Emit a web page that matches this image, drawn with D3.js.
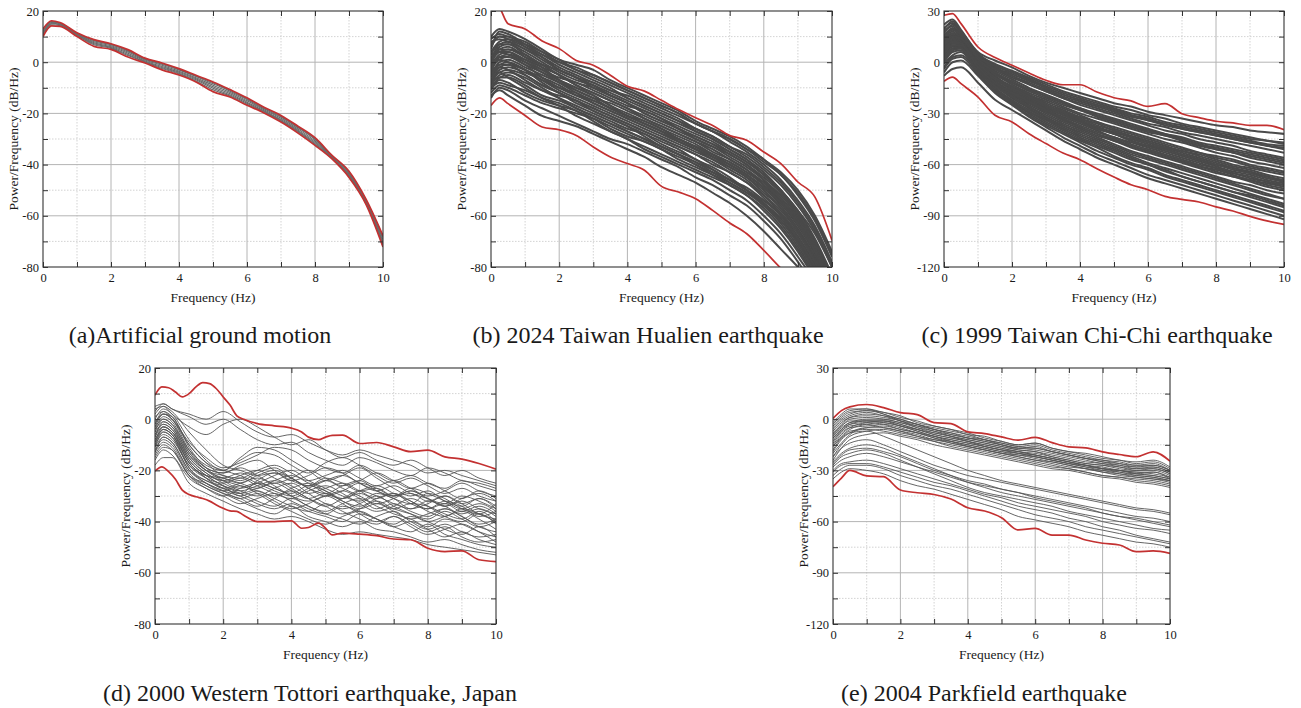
<!DOCTYPE html>
<html>
<head>
<meta charset="utf-8">
<script src="https://cdn.jsdelivr.net/npm/d3@7/dist/d3.min.js"></script>
<style>
  html, body { margin: 0; padding: 0; background: #fff; }
  svg { display: block; }
  text { font-family: "Liberation Serif", "Times New Roman", serif; fill: #1a1a1a; }
</style>
</head>
<body>
<svg id="chart" width="1301" height="708"></svg>
<script>
// Frequency grids (Hz)
const freqs = [0,0.25,0.5,1,1.5,2,2.5,3,3.5,4,4.5,5,5.5,6,6.5,7,7.5,8,8.5,9,9.5,10];
const freqsFine = [0,0.2,0.4,0.6,0.8,1,1.2,1.4,1.6,1.8,2,2.2,2.4,2.6,3,3.5,4,4.3,4.5,4.8,5,5.2,5.5,6,6.5,7,7.5,8,8.5,9,9.5,10];

const captions = [
  "(a)Artificial ground motion",
  "(b) 2024 Taiwan Hualien earthquake",
  "(c) 1999 Taiwan Chi-Chi earthquake",
  "(d) 2000 Western Tottori earthquake, Japan",
  "(e) 2004 Parkfield earthquake"
];
const xTicks = [0,2,4,6,8,10];
const yTicksA = [-80,-60,-40,-20,0,20];
const yTicksC = [-120,-90,-60,-30,0,30];

// (a) Artificial ground motion
const upperA = [13,16.2,15.5,11.5,8.8,7.2,4.9,1.6,-0.3,-2.5,-5.1,-7.7,-10.7,-13.9,-17.6,-20.8,-25,-29.5,-36.4,-42.6,-53.5,-67.8];
const lowerA = [10,14.2,14,10,6.2,5,2,-0.3,-3,-5,-7.7,-11.5,-13.6,-16.8,-19.8,-23.4,-27.7,-32.5,-37.8,-45,-55.5,-72.2];
const grayA = [
  [12,15.8,15.2,11.2,8.4,6.8,4.4,1.2,-0.8,-3,-5.6,-8.4,-11.3,-14.6,-18.2,-21.4,-25.6,-30.2,-36.6,-43.2,-54,-68.5],
  [11.5,15.5,15,11,8,6.4,4,0.9,-1.2,-3.5,-6.1,-9,-11.8,-15.1,-18.6,-21.9,-26.1,-30.8,-37,-43.7,-54.4,-69.2],
  [11,15.2,14.7,10.8,7.6,6,3.5,0.5,-1.7,-3.9,-6.5,-9.6,-12.3,-15.6,-19,-22.4,-26.6,-31.3,-37.2,-44,-54.7,-70],
  [10.8,15,14.6,10.6,7.2,5.7,3,0.2,-2.1,-4.3,-6.9,-10.2,-12.8,-16,-19.3,-22.8,-27,-31.8,-37.4,-44.4,-55,-70.6],
  [12.4,15.9,15.3,11.3,8.6,7,4.6,1.4,-0.5,-2.8,-5.4,-8,-11,-14.2,-17.9,-21.1,-25.3,-29.9,-36.5,-42.9,-53.8,-68],
  [10.5,14.6,14.3,10.3,6.8,5.4,2.6,0,-2.5,-4.6,-7.3,-10.8,-13.2,-16.4,-19.6,-23.1,-27.3,-32.2,-37.6,-44.7,-55.2,-71.2]
];

// (b) 2024 Taiwan Hualien earthquake
const upperB = [26,21.5,15,13,8.3,5.3,0.7,-1.2,-5.1,-9.4,-11.3,-14.9,-18.5,-21.7,-24.7,-28.6,-30.5,-35.1,-39.6,-46.8,-52.7,-69.6];
const lowerB = [-16.9,-13.9,-16.2,-20.8,-25.3,-26.4,-28.6,-33.1,-37,-39.6,-42.2,-48.5,-50.7,-53.3,-57.9,-62.8,-67,-73.5,-80.5,-87,-93,-99];
const grayB = [
  [10,13,12,9,5,1,-1,-3,-7,-10,-13,-16,-19,-23,-26,-29,-33,-38,-43,-50,-60,-74],
  [5,12,11,7,3,0,-3,-6,-9,-12,-15,-18,-21,-24,-27,-31,-35,-40,-46,-54,-64,-78],
  [8,9,8,5,2,-2,-5,-8,-11,-13,-16,-19,-22,-26,-29,-33,-37,-42,-48,-56,-66,-80],
  [0,6,7,4,0,-4,-7,-9,-12,-15,-18,-21,-24,-27,-30,-34,-38,-43,-50,-58,-69,-83],
  [3,4,3,0,-3,-6,-8,-11,-14,-17,-19,-22,-26,-29,-32,-36,-40,-46,-53,-61,-72,-86],
  [-2,2,3,1,-2,-5,-9,-12,-15,-18,-21,-24,-27,-30,-33,-37,-41,-46,-52,-60,-70,-84],
  [-5,0,1,-2,-5,-8,-11,-14,-16,-19,-22,-25,-28,-31,-35,-38,-42,-48,-55,-64,-75,-90],
  [2,5,6,2,-2,-7,-10,-13,-17,-20,-23,-26,-29,-32,-36,-40,-44,-49,-56,-65,-76,-90],
  [-8,-3,-2,-4,-7,-10,-12,-15,-18,-21,-24,-27,-30,-33,-36,-39,-43,-48,-54,-62,-72,-86],
  [-3,1,0,-3,-7,-11,-14,-17,-20,-23,-26,-29,-32,-35,-38,-42,-46,-52,-59,-68,-79,-93],
  [-10,-6,-5,-8,-11,-13,-15,-18,-21,-24,-27,-30,-33,-36,-40,-43,-47,-52,-58,-66,-77,-92],
  [-6,-2,-3,-7,-11,-14,-17,-20,-23,-26,-28,-31,-34,-38,-41,-45,-50,-56,-63,-72,-83,-97],
  [-12,-9,-10,-13,-16,-18,-20,-22,-25,-28,-31,-34,-37,-40,-44,-48,-52,-57,-64,-73,-84,-98],
  [-13,-11,-13,-17,-21,-23,-25,-28,-31,-34,-37,-41,-44,-47,-51,-55,-60,-66,-73,-80,-88,-100],
  [-9,-4,-6,-10,-14,-17,-21,-24,-27,-30,-33,-36,-39,-42,-45,-48,-52,-58,-65,-74,-85,-100],
  [6,10,10,6,2,-3,-6,-9,-13,-16,-19,-22,-25,-28,-31,-35,-39,-44,-50,-58,-67,-80],
  [-1,3,4,0,-4,-8,-12,-16,-19,-22,-25,-28,-31,-34,-38,-41,-45,-51,-57,-66,-77,-91],
  [-7,-4,-3,-5,-9,-12,-15,-19,-22,-25,-29,-33,-36,-39,-42,-46,-49,-54,-60,-69,-80,-95],
  [4,8,9,7,4,1,-3,-5,-8,-11,-14,-17,-20,-24,-27,-30,-34,-39,-44,-52,-62,-76],
  [-11,-7,-8,-12,-15,-17,-19,-22,-26,-29,-31,-34,-38,-41,-44,-47,-51,-55,-61,-70,-81,-95],
  [1,7,8,5,1,-3,-6,-10,-13,-16,-20,-23,-26,-30,-33,-36,-40,-45,-51,-59,-70,-84],
  [-4,-1,-1,-5,-9,-12,-16,-19,-22,-25,-28,-32,-35,-38,-42,-46,-50,-55,-62,-70,-81,-94],
  [9,11,10,8,4,0,-2,-5,-8,-11,-14,-17,-20,-24,-27,-30,-34,-38,-44,-51,-61,-75],
  [7,10,9,6,3,-1,-4,-7,-10,-14,-17,-20,-23,-26,-29,-33,-36,-41,-47,-55,-65,-79],
  [-1,5,5,2,-1,-5,-8,-10,-13,-16,-20,-23,-26,-29,-32,-35,-39,-44,-50,-59,-70,-85],
  [1,4,5,3,-1,-3,-6,-8,-11,-14,-17,-20,-23,-27,-30,-34,-38,-44,-51,-60,-71,-86],
  [-4,2,2,-1,-4,-7,-10,-13,-17,-21,-24,-27,-30,-33,-37,-41,-45,-50,-57,-66,-78,-93],
  [-7,-2,-1,-3,-6,-9,-13,-16,-19,-22,-25,-28,-31,-34,-37,-40,-44,-49,-55,-63,-74,-88],
  [-9,-5,-4,-6,-10,-14,-18,-21,-24,-27,-30,-33,-36,-39,-43,-47,-51,-56,-62,-71,-82,-96],
  [-14,-10,-11,-15,-18,-21,-24,-27,-30,-32,-35,-38,-41,-45,-48,-52,-56,-62,-69,-78,-88,-100],
  [-2,1,2,-1,-6,-10,-13,-15,-18,-21,-23,-26,-30,-33,-36,-39,-43,-47,-53,-61,-72,-86],
  [3,7,7,3,-1,-5,-9,-12,-15,-18,-22,-25,-28,-31,-34,-38,-42,-47,-54,-62,-73,-87],
  [-5,-1,0,-3,-8,-12,-15,-18,-21,-24,-27,-30,-33,-36,-39,-43,-47,-53,-60,-69,-80,-95],
  [-10,-8,-9,-11,-14,-16,-19,-23,-27,-30,-34,-37,-40,-43,-46,-50,-54,-60,-67,-76,-86,-100],
  [0,4,4,1,-3,-7,-11,-14,-18,-21,-24,-27,-31,-34,-37,-40,-44,-49,-55,-63,-74,-88],
  [-8,-6,-6,-9,-13,-15,-18,-21,-24,-27,-30,-33,-36,-40,-43,-46,-50,-54,-59,-67,-78,-92]
];

// (c) 1999 Taiwan Chi-Chi earthquake
const upperC = [27.5,28.5,22.6,8.9,2.7,-1.8,-6.3,-10.6,-13.2,-13.2,-17.5,-20.8,-22.7,-25.9,-24.3,-30.2,-32.5,-34.6,-35.6,-37,-37,-39.5];
const lowerC = [-11.2,-8.7,-12.6,-20.4,-31.1,-35,-41.9,-47.7,-53.2,-57.1,-62.4,-67.3,-71.8,-74.7,-78.6,-80.4,-81.9,-84.8,-87.2,-90.3,-93,-95];
const grayC = [
  [20,23,18,6,1,-3,-8,-12,-15,-18,-21,-24,-26,-29,-31,-33,-35,-37,-38,-40,-41,-42],
  [15,20,16,5,-2,-6,-10,-14,-18,-21,-24,-27,-30,-32,-35,-37,-39,-41,-43,-45,-46,-48],
  [12,17,14,3,-4,-9,-13,-17,-21,-24,-27,-30,-33,-36,-38,-41,-43,-45,-47,-49,-51,-53],
  [18,21,15,2,-6,-12,-16,-20,-24,-27,-31,-34,-37,-40,-42,-45,-48,-50,-52,-54,-56,-58],
  [8,14,12,1,-7,-13,-18,-22,-26,-30,-33,-36,-39,-42,-45,-47,-50,-53,-55,-58,-60,-62],
  [10,15,13,0,-8,-15,-20,-25,-29,-33,-36,-40,-43,-46,-49,-52,-54,-57,-60,-62,-64,-66],
  [5,11,10,-2,-10,-16,-21,-26,-30,-34,-38,-41,-44,-47,-50,-53,-56,-59,-62,-64,-67,-69],
  [14,18,13,-1,-11,-18,-23,-28,-32,-36,-40,-44,-47,-50,-53,-56,-59,-62,-65,-68,-70,-72],
  [2,8,8,-3,-12,-19,-25,-30,-35,-39,-43,-46,-50,-53,-56,-59,-62,-65,-67,-70,-73,-75],
  [9,13,11,-4,-13,-20,-26,-32,-37,-41,-45,-49,-53,-56,-59,-62,-65,-68,-71,-74,-77,-80],
  [-3,3,4,-5,-14,-21,-27,-33,-38,-43,-47,-51,-55,-59,-62,-65,-68,-71,-74,-77,-80,-83],
  [6,12,10,-6,-16,-23,-30,-36,-41,-46,-50,-55,-59,-62,-66,-69,-72,-75,-78,-81,-84,-87],
  [-6,0,1,-8,-18,-25,-32,-38,-44,-49,-54,-58,-62,-66,-69,-72,-75,-78,-81,-84,-87,-90],
  [3,9,9,-7,-17,-24,-29,-34,-39,-44,-48,-52,-56,-60,-63,-67,-70,-73,-76,-78,-81,-84],
  [16,19,15,4,-3,-8,-12,-16,-20,-23,-26,-29,-32,-34,-37,-39,-41,-43,-45,-47,-49,-50],
  [11,16,14,1,-9,-14,-19,-23,-27,-31,-35,-38,-41,-44,-47,-50,-53,-55,-57,-60,-62,-64],
  [0,6,7,-4,-15,-22,-28,-33,-37,-42,-46,-50,-54,-57,-60,-63,-66,-69,-72,-75,-78,-80],
  [7,13,12,-1,-12,-17,-22,-27,-31,-35,-39,-42,-46,-49,-52,-55,-58,-61,-64,-66,-69,-71],
  [13,17,15,2,-5,-10,-15,-19,-23,-27,-30,-33,-36,-39,-42,-44,-47,-49,-51,-53,-55,-57],
  [4,10,9,-3,-13,-19,-24,-29,-33,-38,-42,-46,-49,-52,-55,-58,-61,-64,-67,-69,-72,-74],
  [-8,-4,-3,-12,-22,-28,-34,-40,-46,-51,-56,-60,-64,-68,-71,-74,-77,-80,-83,-86,-89,-92],
  [22,25,19,5,-1,-5,-9,-13,-17,-20,-23,-26,-28,-31,-33,-36,-38,-40,-42,-44,-46,-47],
  [17,22,17,4,-3,-7,-11,-15,-19,-22,-25,-28,-31,-33,-36,-38,-40,-42,-44,-46,-48,-49],
  [12,16,13,1,-7,-12,-17,-21,-25,-28,-32,-35,-38,-41,-43,-46,-49,-51,-53,-56,-58,-60],
  [9,14,12,0,-9,-14,-19,-24,-28,-32,-35,-39,-42,-45,-48,-51,-53,-56,-58,-61,-63,-65],
  [6,11,11,-2,-11,-17,-22,-27,-31,-35,-39,-42,-46,-49,-51,-54,-57,-60,-62,-65,-67,-70],
  [3,8,9,-4,-13,-19,-24,-29,-34,-38,-42,-45,-49,-52,-55,-58,-61,-63,-66,-69,-71,-73],
  [11,15,12,-2,-10,-16,-21,-26,-30,-34,-38,-42,-45,-48,-51,-54,-57,-60,-63,-65,-68,-70],
  [1,7,8,-5,-14,-20,-26,-31,-36,-40,-44,-48,-52,-55,-58,-61,-64,-67,-70,-72,-75,-77],
  [-1,4,6,-6,-16,-23,-29,-35,-40,-45,-49,-53,-57,-60,-64,-67,-70,-73,-76,-79,-82,-85],
  [14,19,16,3,-4,-8,-13,-17,-21,-25,-28,-31,-34,-37,-40,-42,-45,-47,-49,-52,-54,-56],
  [7,12,11,-1,-9,-15,-20,-25,-29,-33,-37,-40,-44,-47,-50,-52,-55,-58,-61,-63,-66,-68],
  [-4,2,3,-7,-17,-24,-31,-37,-42,-47,-52,-56,-60,-63,-67,-70,-73,-76,-79,-82,-85,-88],
  [10,15,14,2,-6,-11,-16,-20,-24,-28,-31,-34,-37,-40,-43,-45,-48,-51,-53,-55,-57,-59],
  [5,10,10,-3,-12,-18,-23,-28,-33,-37,-41,-44,-48,-51,-54,-57,-60,-62,-65,-67,-70,-72],
  [19,24,18,3,-2,-6,-10,-15,-19,-22,-25,-28,-31,-34,-36,-39,-41,-43,-45,-47,-49,-51]
];

// (d) 2000 Western Tottori earthquake (envelopes on the fine grid)
const upperD = [9.4,12.6,12.3,10.6,8.7,10,12.6,14.3,13.9,11.9,8.7,5.5,1.3,0,-1.7,-2.6,-3.5,-5,-7,-8,-7,-6.3,-6.2,-9.5,-9.1,-10.8,-12.7,-12.1,-14.7,-15.6,-17.3,-19.5];
const lowerD = [-20.3,-18.6,-20.5,-23.5,-27.7,-29.4,-30.3,-31,-32,-33.5,-34.8,-35.8,-36,-37.5,-40,-40,-39.7,-42.6,-42.3,-40.6,-42.6,-45.2,-44.5,-44.9,-45.5,-46.8,-47.1,-50.4,-51.7,-51.4,-54.9,-55.6];
const grayD = [
  [2,5,3,-5,-12,-18,-20,-22,-21,-24,-26,-23,-25,-28,-27,-30,-29,-32,-30,-33,-31,-34],
  [-5,-2,-4,-14,-20,-22,-24,-21,-19,-23,-27,-29,-26,-24,-28,-31,-33,-29,-31,-35,-37,-33],
  [-10,-6,-8,-18,-22,-24,-26,-28,-30,-27,-25,-28,-32,-34,-31,-29,-32,-36,-38,-35,-37,-40],
  [0,4,2,-8,-16,-20,-15,-11,-12,-16,-20,-24,-22,-19,-23,-27,-30,-28,-32,-34,-31,-35],
  [-14,-10,-12,-22,-25,-28,-30,-33,-35,-33,-36,-38,-40,-37,-39,-42,-44,-41,-45,-47,-49,-50],
  [-8,-4,-6,-17,-23,-27,-25,-23,-26,-30,-32,-30,-28,-31,-35,-33,-36,-38,-35,-38,-42,-44],
  [3,6,4,1,-2,0,-4,-8,-10,-9,-13,-16,-18,-15,-17,-20,-22,-19,-21,-24,-25,-27],
  [-12,-8,-10,-21,-26,-29,-32,-35,-37,-34,-38,-40,-42,-40,-43,-44,-46,-48,-47,-49,-51,-52],
  [-3,0,-2,-12,-18,-20,-16,-13,-14,-18,-21,-17,-15,-18,-22,-25,-23,-26,-29,-27,-30,-32],
  [-16,-12,-14,-23,-27,-30,-33,-31,-29,-32,-35,-37,-34,-36,-39,-41,-38,-40,-43,-45,-42,-46],
  [-6,-3,-5,-15,-21,-25,-28,-30,-27,-25,-29,-33,-35,-33,-30,-34,-37,-40,-38,-36,-39,-43],
  [1,3,0,-10,-17,-22,-23,-20,-18,-21,-24,-22,-20,-23,-26,-24,-27,-30,-28,-25,-28,-30],
  [-9,-5,-7,-19,-24,-26,-28,-26,-24,-27,-31,-34,-31,-28,-30,-33,-35,-32,-34,-37,-35,-38],
  [4,5,2,-3,-6,-2,0,-3,-7,-10,-8,-12,-15,-13,-16,-18,-16,-19,-22,-20,-23,-25],
  [-18,-15,-15,-25,-29,-32,-35,-37,-39,-38,-40,-43,-45,-44,-45,-46,-47,-49,-50,-51,-52,-53],
  [-4,-1,-3,-13,-19,-21,-18,-16,-20,-24,-22,-19,-21,-25,-28,-26,-29,-31,-34,-32,-35,-37],
  [-11,-7,-9,-20,-25,-28,-31,-29,-32,-35,-33,-30,-33,-37,-40,-38,-41,-44,-42,-46,-48,-47],
  [-7,-3,-5,-16,-22,-26,-29,-32,-34,-31,-34,-37,-39,-41,-38,-36,-40,-43,-41,-44,-46,-45],
  [-2,2,1,-11,-19,-23,-21,-24,-27,-29,-26,-28,-31,-29,-32,-35,-33,-34,-37,-39,-36,-40],
  [-13,-9,-11,-22,-27,-30,-27,-25,-27,-30,-34,-36,-33,-31,-34,-37,-39,-42,-39,-41,-44,-46],
  [5,6,4,2,0,3,-1,-5,-7,-6,-9,-12,-14,-12,-14,-16,-18,-21,-20,-22,-24,-26],
  [-1,2,0,-9,-15,-19,-17,-14,-11,-12,-16,-19,-21,-18,-21,-24,-22,-25,-27,-24,-26,-28],
  [-7,-1,-3,-15,-21,-24,-22,-20,-23,-26,-29,-27,-25,-28,-31,-29,-33,-35,-32,-34,-38,-36],
  [-9,-3,-5,-17,-22,-23,-25,-27,-24,-22,-25,-29,-31,-28,-26,-29,-32,-35,-33,-36,-34,-37],
  [-4,1,-1,-13,-20,-24,-27,-25,-22,-20,-24,-27,-30,-32,-29,-31,-35,-33,-30,-33,-37,-39],
  [-11,-5,-7,-18,-23,-25,-23,-26,-29,-31,-28,-26,-29,-33,-36,-34,-31,-34,-38,-40,-37,-41],
  [-6,-2,-4,-16,-22,-26,-30,-28,-31,-34,-36,-33,-36,-39,-41,-38,-42,-45,-43,-41,-44,-48],
  [-13,-7,-9,-20,-24,-27,-29,-24,-21,-23,-27,-30,-28,-25,-27,-30,-28,-31,-34,-31,-29,-32],
  [-3,2,0,-12,-19,-21,-19,-22,-25,-23,-20,-23,-26,-24,-21,-24,-27,-25,-28,-31,-28,-31],
  [-15,-11,-12,-22,-26,-29,-31,-34,-31,-28,-31,-34,-37,-35,-32,-35,-37,-39,-36,-39,-42,-40],
  [-8,-4,-6,-19,-25,-28,-26,-29,-33,-36,-39,-41,-38,-36,-39,-42,-40,-43,-46,-44,-47,-49],
  [-5,0,-2,-14,-20,-23,-25,-22,-20,-23,-26,-24,-27,-30,-33,-31,-28,-31,-33,-30,-32,-35],
  [-10,-4,-6,-17,-23,-27,-29,-27,-25,-28,-31,-29,-32,-35,-33,-36,-39,-37,-35,-38,-41,-39],
  [-2,3,1,-10,-17,-20,-22,-25,-28,-30,-27,-24,-22,-25,-28,-30,-27,-29,-32,-35,-33,-36]
];

// (e) 2004 Parkfield earthquake
const upperE = [0.4,5,7.2,8.6,6.8,3.9,2.7,-2,-2.6,-7.4,-8.4,-10.4,-12.3,-10.6,-13.7,-16.2,-16.8,-19.1,-20.7,-22,-19.1,-24.6];
const lowerE = [-39.6,-34.5,-30,-33.2,-33.7,-41.5,-43.1,-44.1,-46.8,-51.9,-53.8,-57.7,-64.9,-64,-67.9,-67.9,-70.8,-72.7,-73.7,-77.6,-77.2,-78.6];
const grayE = [
  [-5,0,3,5,4,1,-1,-4,-6,-9,-10,-13,-15,-14,-17,-19,-20,-22,-24,-25,-24,-28],
  [-10,-5,-2,0,0,-2,-4,-6,-9,-11,-13,-15,-17,-18,-20,-22,-24,-26,-27,-29,-28,-31],
  [-15,-9,-5,-2,-1,-3,-6,-9,-11,-13,-15,-17,-19,-21,-23,-25,-27,-28,-30,-31,-32,-34],
  [-8,-3,1,2,1,-1,-5,-8,-10,-12,-14,-16,-18,-19,-22,-24,-26,-27,-29,-30,-29,-32],
  [-20,-14,-9,-5,-4,-6,-8,-11,-14,-16,-18,-20,-21,-23,-25,-27,-29,-31,-32,-34,-35,-36],
  [-12,-7,-4,-3,-5,-7,-9,-12,-13,-15,-17,-19,-21,-22,-24,-26,-28,-29,-31,-32,-31,-35],
  [-3,2,5,6,3,0,-3,-5,-7,-9,-12,-14,-16,-15,-18,-20,-22,-24,-25,-27,-26,-30],
  [-18,-11,-7,-6,-7,-9,-11,-13,-15,-17,-19,-21,-23,-25,-27,-29,-31,-33,-34,-36,-37,-39],
  [-9,-4,-1,-1,-2,-4,-7,-10,-12,-14,-16,-18,-20,-21,-23,-25,-27,-29,-30,-32,-33,-35],
  [-24,-17,-12,-9,-8,-10,-12,-15,-17,-19,-21,-23,-25,-27,-29,-30,-32,-34,-35,-37,-38,-40],
  [-6,-1,2,4,2,-1,-3,-6,-8,-11,-12,-15,-17,-16,-19,-21,-23,-25,-26,-28,-27,-30],
  [-14,-8,-5,-4,-3,-5,-8,-10,-13,-15,-17,-19,-20,-22,-24,-26,-28,-30,-31,-33,-34,-36],
  [-11,-6,-3,-2,-3,-6,-8,-11,-13,-16,-18,-20,-22,-24,-26,-28,-29,-31,-33,-34,-35,-37],
  [-2,3,6,6,4,2,-2,-4,-6,-8,-11,-13,-15,-14,-17,-19,-21,-23,-24,-26,-25,-29],
  [-28,-24,-22,-20,-22,-25,-28,-31,-34,-37,-39,-41,-43,-45,-47,-49,-51,-53,-55,-57,-58,-60],
  [-30,-26,-25,-24,-26,-29,-32,-35,-38,-41,-44,-46,-49,-51,-53,-55,-57,-60,-62,-64,-65,-67],
  [-25,-20,-17,-15,-17,-21,-25,-29,-33,-37,-40,-43,-45,-47,-49,-51,-53,-55,-57,-58,-60,-62],
  [-33,-29,-27,-27,-29,-33,-36,-39,-41,-44,-47,-50,-53,-56,-58,-60,-63,-65,-67,-69,-71,-73],
  [-22,-17,-14,-12,-15,-19,-23,-27,-30,-33,-35,-37,-39,-41,-43,-45,-47,-49,-51,-53,-54,-56],
  [-35,-31,-29,-30,-32,-36,-39,-41,-44,-47,-50,-53,-57,-59,-61,-63,-66,-68,-70,-72,-73,-75],
  [-27,-22,-20,-18,-20,-24,-28,-32,-36,-40,-43,-45,-47,-49,-51,-54,-56,-58,-60,-62,-64,-65],
  [-16,-11,-8,-7,-10,-14,-18,-22,-26,-30,-33,-36,-38,-40,-42,-44,-46,-48,-50,-52,-53,-55],
  [-7,-2,1,3,2,0,-3,-6,-8,-10,-12,-14,-16,-17,-19,-21,-23,-24,-26,-27,-27,-30],
  [-13,-7,-3,-1,-1,-3,-6,-8,-10,-13,-15,-17,-19,-20,-22,-24,-26,-27,-28,-30,-30,-33],
  [-16,-10,-6,-3,-2,-4,-7,-10,-12,-14,-16,-18,-20,-22,-24,-26,-27,-29,-30,-32,-33,-35],
  [-4,1,4,5,3,-1,-4,-7,-9,-11,-13,-15,-17,-17,-19,-21,-23,-25,-27,-28,-28,-31],
  [-19,-12,-8,-5,-5,-7,-10,-12,-14,-16,-18,-20,-22,-24,-25,-27,-29,-30,-32,-33,-34,-36],
  [-9,-4,0,1,0,-2,-5,-7,-10,-12,-14,-16,-18,-19,-21,-23,-25,-26,-28,-29,-29,-32],
  [-11,-6,-2,-1,-1,-4,-6,-9,-11,-13,-16,-18,-19,-21,-23,-25,-27,-29,-30,-31,-31,-34],
  [-22,-15,-10,-7,-6,-8,-10,-13,-16,-18,-20,-22,-24,-26,-28,-29,-31,-33,-34,-35,-36,-38],
  [-26,-21,-18,-17,-19,-22,-26,-30,-33,-36,-38,-41,-43,-46,-48,-50,-52,-55,-57,-59,-61,-63],
  [-31,-27,-26,-26,-28,-31,-34,-37,-39,-42,-45,-48,-51,-53,-55,-58,-60,-63,-65,-68,-70,-72]
];

const RED = "#c33131";

const panels = [
  { box: [43, 11, 383, 267], yDomain: [-80, 20], yTicks: yTicksA, yMinor: 10,
    gray: grayA, grayFreq: freqs, upper: upperA, lower: lowerA, redFreq: freqs,
    grayColor: "#6a6a6a", grayWidth: 1.1, caption: captions[0], capX: 200, capY: 343 },
  { box: [491, 11, 832, 267], yDomain: [-80, 20], yTicks: yTicksA, yMinor: 10,
    gray: grayB, grayFreq: freqs, upper: upperB, lower: lowerB, redFreq: freqs,
    grayColor: "#4a4a4a", grayWidth: 2.0, caption: captions[1], capX: 648, capY: 343 },
  { box: [944, 11, 1284, 267], yDomain: [-120, 30], yTicks: yTicksC, yMinor: 15,
    gray: grayC, grayFreq: freqs, upper: upperC, lower: lowerC, redFreq: freqs,
    grayColor: "#4a4a4a", grayWidth: 2.0, caption: captions[2], capX: 1097, capY: 343 },
  { box: [155, 368, 496, 624], yDomain: [-80, 20], yTicks: yTicksA, yMinor: 10,
    gray: grayD, grayFreq: freqs, upper: upperD, lower: lowerD, redFreq: freqsFine,
    grayColor: "#555", grayWidth: 0.9, caption: captions[3], capX: 310, capY: 701 },
  { box: [833, 368, 1170, 624], yDomain: [-120, 30], yTicks: yTicksC, yMinor: 15,
    gray: grayE, grayFreq: freqs, upper: upperE, lower: lowerE, redFreq: freqs,
    grayColor: "#555", grayWidth: 0.9, caption: captions[4], capX: 984, capY: 701 }
];

const svg = d3.select("#chart");

panels.forEach((p, i) => {
  const [x0, y0, x1, y1] = p.box;
  const x = d3.scaleLinear().domain([0, 10]).range([x0, x1]);
  const y = d3.scaleLinear().domain(p.yDomain).range([y1, y0]);
  const g = svg.append("g");

  const clipId = "clip" + i;
  g.append("clipPath").attr("id", clipId)
    .append("rect").attr("x", x0).attr("y", y0).attr("width", x1 - x0).attr("height", y1 - y0);

  // Grid: solid at labelled ticks, dotted halfway between
  const majorX = xTicks;
  const minorX = d3.range(1, 10, 2);
  const majorY = p.yTicks;
  const minorY = d3.range(p.yDomain[0] + p.yMinor, p.yDomain[1], p.yMinor * 2);

  g.selectAll(".gmx").data(minorX).join("line")
    .attr("x1", d => x(d)).attr("x2", d => x(d)).attr("y1", y0).attr("y2", y1)
    .attr("stroke", "#c8c8c8").attr("stroke-width", 0.8).attr("stroke-dasharray", "1.5,1.5");
  g.selectAll(".gmy").data(minorY).join("line")
    .attr("y1", d => y(d)).attr("y2", d => y(d)).attr("x1", x0).attr("x2", x1)
    .attr("stroke", "#c8c8c8").attr("stroke-width", 0.8).attr("stroke-dasharray", "1.5,1.5");
  g.selectAll(".gMx").data(majorX.slice(1, -1)).join("line")
    .attr("x1", d => x(d)).attr("x2", d => x(d)).attr("y1", y0).attr("y2", y1)
    .attr("stroke", "#b4b4b4").attr("stroke-width", 1);
  g.selectAll(".gMy").data(majorY.slice(1, -1)).join("line")
    .attr("y1", d => y(d)).attr("y2", d => y(d)).attr("x1", x0).attr("x2", x1)
    .attr("stroke", "#b4b4b4").attr("stroke-width", 1);

  const plot = g.append("g").attr("clip-path", `url(#${clipId})`);

  const grayLine = d3.line()
    .x((d, k) => x(p.grayFreq[k])).y(d => y(d))
    .curve(d3.curveMonotoneX);
  plot.selectAll(".gl").data(p.gray).join("path")
    .attr("d", grayLine).attr("fill", "none")
    .attr("stroke", p.grayColor).attr("stroke-width", p.grayWidth)
    .attr("stroke-linejoin", "round");

  const redLine = d3.line()
    .x((d, k) => x(p.redFreq[k])).y(d => y(d))
    .curve(d3.curveMonotoneX);
  plot.selectAll(".rl").data([p.upper, p.lower]).join("path")
    .attr("d", redLine).attr("fill", "none")
    .attr("stroke", RED).attr("stroke-width", 1.7)
    .attr("stroke-linejoin", "round");

  // Frame
  g.append("rect").attr("x", x0).attr("y", y0).attr("width", x1 - x0).attr("height", y1 - y0)
    .attr("fill", "none").attr("stroke", "#333").attr("stroke-width", 1.1);

  // Inward ticks on every side
  const tickX = d3.range(0, 11, 1);
  const tickY = d3.range(p.yDomain[0], p.yDomain[1] + 0.1, p.yMinor);
  const axB = d3.axisBottom(x).tickValues(tickX).tickSizeInner(-5).tickSizeOuter(0)
    .tickFormat(d => majorX.includes(d) ? d : "");
  const axT = d3.axisTop(x).tickValues(tickX).tickSizeInner(-5).tickSizeOuter(0).tickFormat("");
  const axL = d3.axisLeft(y).tickValues(tickY).tickSizeInner(-5).tickSizeOuter(0)
    .tickFormat(d => majorY.includes(d) ? d : "");
  const axR = d3.axisRight(y).tickValues(tickY).tickSizeInner(-5).tickSizeOuter(0).tickFormat("");

  const styleAxis = sel => {
    sel.select(".domain").remove();
    sel.selectAll(".tick line").attr("stroke", "#333");
    sel.selectAll(".tick text").attr("font-family", "Liberation Serif, serif")
      .attr("font-size", 12.5).attr("fill", "#1a1a1a");
  };
  g.append("g").attr("transform", `translate(0,${y1})`).call(axB).call(styleAxis)
    .selectAll(".tick text").attr("dy", "0.95em").attr("y", 3);
  g.append("g").attr("transform", `translate(0,${y0})`).call(axT).call(styleAxis);
  g.append("g").attr("transform", `translate(${x0},0)`).call(axL).call(styleAxis)
    .selectAll(".tick text").attr("x", -4);
  g.append("g").attr("transform", `translate(${x1},0)`).call(axR).call(styleAxis);

  // Axis titles
  g.append("text").attr("x", (x0 + x1) / 2).attr("y", y1 + 35)
    .attr("text-anchor", "middle").attr("font-size", 13.5).text("Frequency (Hz)");
  g.append("text")
    .attr("transform", `translate(${x0 - 25},${(y0 + y1) / 2}) rotate(-90)`)
    .attr("text-anchor", "middle").attr("font-size", 13.5).text("Power/Frequency (dB/Hz)");

  // Caption
  g.append("text").attr("x", p.capX).attr("y", p.capY)
    .attr("text-anchor", "middle").attr("font-size", 24).text(p.caption);
});
</script>
</body>
</html>
